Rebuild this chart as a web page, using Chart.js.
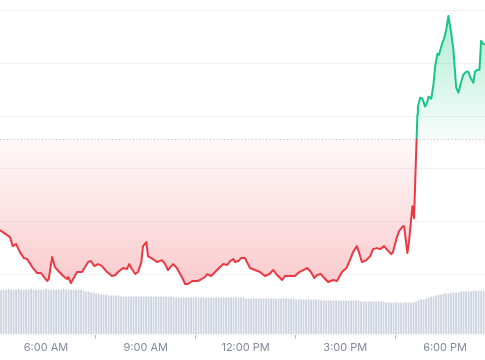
<!DOCTYPE html>
<html>
<head>
<meta charset="utf-8">
<script src="https://cdn.jsdelivr.net/npm/chart.js@4.4.1/dist/chart.umd.min.js"></script>
<style>
  html, body { margin: 0; padding: 0; background: #fff; }
  #wrap { width: 485px; height: 360px; }
</style>
</head>
<body>
<div id="wrap"><canvas id="chart"></canvas></div>
<script>
// time in minutes since midnight
const priceTimes = [
  277, 282, 290, 295, 300, 306, 313, 320, 326, 335, 344, 351, 355, 362, 365, 371, 376, 384, 391, 398,
  400, 405, 412, 416, 425, 436, 441, 447, 454, 461, 470, 479, 485, 490, 499, 506, 510, 515, 521, 526,
  532, 535, 541, 544, 553, 560, 569, 575, 580, 589, 596, 606, 611, 616, 624, 633, 638, 647, 651, 658,
  665, 674, 680, 687, 692, 698, 701, 707, 712, 719, 728, 737, 746, 755, 763, 770, 777, 786, 791, 800,
  809, 817, 831, 838, 844, 849, 856, 860, 869, 878, 885, 894, 902, 909, 914, 921, 925, 930, 938, 945,
  950, 957, 963, 970, 976, 983, 986, 992, 997, 1004, 1006, 1012, 1015, 1021, 1024, 1030, 1031, 1035, 1039, 1044,
  1048, 1050, 1055, 1059, 1062, 1066, 1069, 1075, 1078, 1082, 1086, 1091, 1095, 1100, 1104, 1109, 1113, 1118, 1122, 1125,
  1131, 1134, 1138, 1142, 1145, 1149, 1152
];
const prices = [
  69, 67, 64, 62, 53, 55, 47, 41, 40, 32, 26, 26, 23, 18, 20, 42, 32, 27, 23, 20,
  22, 16, 23, 27, 27, 37, 38, 33, 35, 33, 27, 23, 24, 27, 31, 30, 35, 30, 25, 27,
  37, 53, 57, 43, 40, 37, 39, 35, 29, 35, 31, 21, 15, 15, 18, 18, 19, 22, 25, 23,
  27, 32, 35, 34, 38, 40, 37, 38, 41, 41, 31, 29, 27, 23, 25, 29, 24, 19, 23, 23,
  23, 27, 31, 27, 21, 24, 25, 22, 17, 19, 18, 27, 31, 40, 47, 53, 46, 37, 39, 43,
  50, 51, 50, 53, 49, 45, 47, 60, 68, 73, 73, 46, 58, 93, 81, 185, 193, 202, 201, 193,
  198, 203, 201, 215, 233, 246, 245, 257, 261, 270, 284, 267, 250, 212, 207, 218, 225, 228, 228, 223,
  217, 228, 230, 230, 259, 256, 255
];
const basePrice = 160;

const tickTimes = [360, 540, 720, 900, 1080];
const tickLabels = ['6:00 AM', '9:00 AM', '12:00 PM', '3:00 PM', '6:00 PM'];
const gridValues = [25, 78, 131, 183, 236, 289];

const volumeStart = 279;
const volumeStep = 4.51;
const volumes = [
  44, 44, 44, 45, 44, 44, 44, 45, 44, 44,
  44, 44, 45, 44, 44, 44, 44, 44, 45, 44,
  44, 44, 44, 44, 44, 45, 44, 44, 44, 44, 44, 44, 44,
  43, 42, 42, 41, 41, 40, 40, 39, 39, 39, 38, 38, 38, 38, 38,
  37, 37, 37, 37, 37, 37, 37, 37, 37, 37, 37, 37, 37, 37, 37, 37, 37, 37, 37, 37,
  37, 37, 36, 36, 36, 36, 36, 36, 36, 36, 36, 36, 36, 36, 36, 36, 36, 36, 36, 36,
  36, 36, 36, 36, 36, 36, 36, 36, 36, 36,
  35, 35, 35, 35, 35, 35, 35, 35, 35, 35, 35, 35, 35, 35, 35, 35, 35, 35, 35, 35,
  34, 34, 34, 34, 34, 34, 34, 34, 34, 34,
  33, 33, 33, 33, 33, 33, 33, 33, 33, 33, 33, 33, 33, 33, 33, 33,
  32, 32, 32, 32, 32, 32, 32, 32, 32, 32,
  31, 31, 31, 31, 31, 31, 31, 31, 31, 31,
  31, 31, 32, 33, 34, 34, 35, 36, 37, 37, 38, 39, 39, 40, 40,
  40, 41, 41, 41, 41, 42, 42, 42, 42, 42, 43, 43, 43, 43, 43
];

const green = '#16c784';
const red = '#ea3943';

const pricePoints = priceTimes.map((t, i) => ({ x: t, y: prices[i] }));
const volumePoints = volumes.map((v, i) => ({ x: volumeStart + i * volumeStep, y: v }));

// vertical gradient that switches colour at the opening price
function splitGradient(chart, c0, c1, c2, c3) {
  const area = chart.chartArea;
  if (!area) return null;
  const yBase = chart.scales.y.getPixelForValue(basePrice);
  let stop = (yBase - area.top) / (area.bottom - area.top);
  stop = Math.min(Math.max(stop, 0), 1);
  const g = chart.ctx.createLinearGradient(0, area.top, 0, area.bottom);
  g.addColorStop(0, c0);
  g.addColorStop(stop, c1);
  g.addColorStop(stop, c2);
  g.addColorStop(1, c3);
  return g;
}

new Chart(document.getElementById('chart'), {
  data: {
    datasets: [
      {
        type: 'line',
        data: pricePoints,
        yAxisID: 'y',
        order: 0,
        borderWidth: 2,
        tension: 0,
        pointRadius: 0,
        borderJoinStyle: 'round',
        borderColor: ctx => splitGradient(ctx.chart, green, green, red, red),
        backgroundColor: ctx => splitGradient(ctx.chart,
          'rgba(22,199,132,0.38)', 'rgba(22,199,132,0.03)',
          'rgba(234,57,67,0.03)', 'rgba(234,57,67,0.34)'),
        fill: { target: { value: basePrice } }
      },
      {
        type: 'line',
        data: [{ x: 277, y: basePrice }, { x: 1152, y: basePrice }],
        yAxisID: 'y',
        order: 1,
        borderWidth: 1,
        borderDash: [1, 2.5],
        borderColor: 'rgba(128,138,157,0.6)',
        pointRadius: 0,
        fill: false
      },
      {
        type: 'bar',
        data: volumePoints,
        yAxisID: 'y1',
        order: 2,
        barThickness: 1.1,
        backgroundColor: '#cdd3de',
        borderWidth: 0
      }
    ]
  },
  options: {
    responsive: true,
    maintainAspectRatio: false,
    animation: false,
    layout: { padding: { left: 0, right: 0, top: 0, bottom: 4 } },
    plugins: { legend: { display: false }, tooltip: { enabled: false } },
    scales: {
      x: {
        type: 'linear',
        min: 277,
        max: 1152,
        offset: false,
        afterBuildTicks: scale => { scale.ticks = tickTimes.map(v => ({ value: v })); },
        grid: { drawOnChartArea: false, drawTicks: true, tickLength: 4, color: '#b7bdc6' },
        border: { display: false },
        ticks: {
          autoSkip: false,
          maxRotation: 0,
          padding: 2,
          color: '#808a9d',
          font: { family: 'Inter', size: 11 },
          callback: v => tickLabels[tickTimes.indexOf(v)]
        }
      },
      y: {
        min: -36,
        max: 300,
        afterBuildTicks: scale => { scale.ticks = gridValues.map(v => ({ value: v })); },
        grid: { drawTicks: false, color: '#f1f2f4', lineWidth: 1 },
        border: { display: false },
        ticks: { display: false }
      },
      y1: {
        display: false,
        min: -1,
        max: 335
      }
    }
  }
});
</script>
</body>
</html>
